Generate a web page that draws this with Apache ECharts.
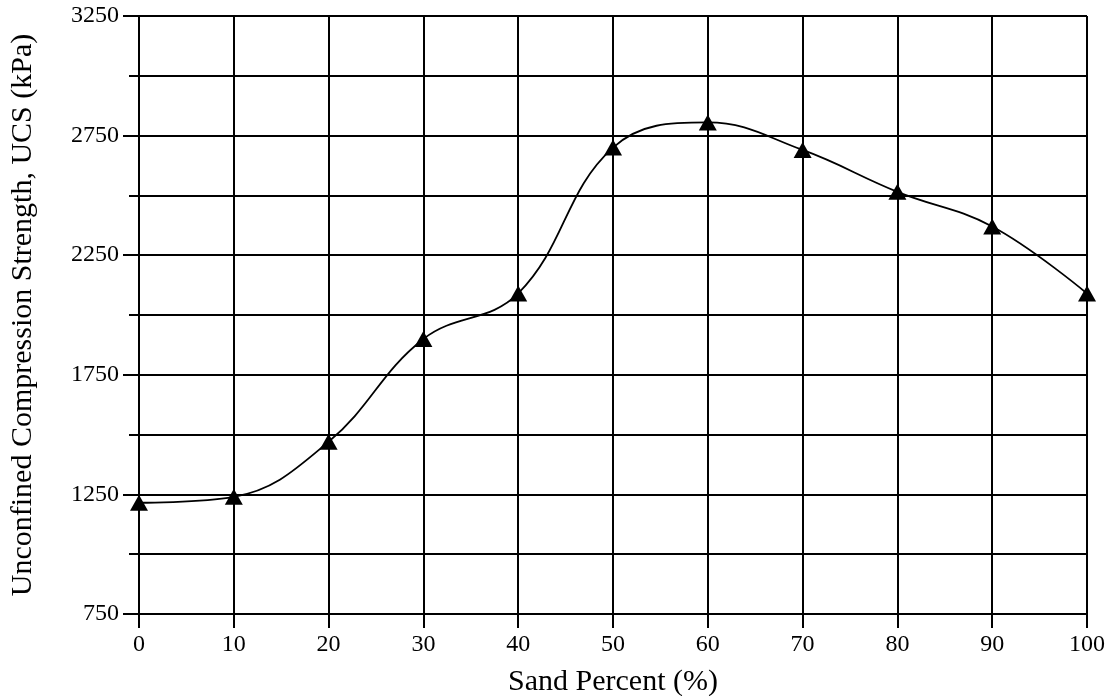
<!DOCTYPE html>
<html>
<head>
<meta charset="utf-8">
<title>UCS vs Sand Percent</title>
<script src="https://cdn.jsdelivr.net/npm/echarts@6/dist/echarts.min.js"></script>
<style>
  html, body { margin: 0; padding: 0; background: #fff; }
  #main { width: 1112px; height: 696px; }
</style>
</head>
<body>
<div id="main"></div>
<script>
// sand percent (%) and UCS (kPa)
const sandPercent = [0, 10, 20, 30, 40, 50, 60, 70, 80, 90, 100];
const ucsValues = [1215, 1240, 1470, 1900, 2090, 2700, 2805, 2690, 2515, 2370, 2090];

const font = "Liberation Serif";

const chart = echarts.init(document.getElementById("main"));

const option = {
  animation: false,
  backgroundColor: "#fff",
  grid: { left: 139, right: 25, top: 16, bottom: 82, outerBoundsMode: "none", containLabel: false },
  xAxis: {
    type: "value",
    min: 0,
    max: 100,
    interval: 10,
    name: "Sand Percent (%)",
    nameLocation: "middle",
    nameGap: 53,
    nameTextStyle: { fontFamily: font, fontSize: 30, color: "#000" },
    axisLine: { show: true, lineStyle: { color: "#000", width: 2 } },
    axisTick: { show: true, inside: false, length: 14, lineStyle: { color: "#000", width: 2 } },
    axisLabel: { fontFamily: font, fontSize: 24, color: "#000", margin: 19 },
    splitLine: { show: true, lineStyle: { color: "#000", width: 2 } }
  },
  yAxis: [
    {
      type: "value",
      min: 750,
      max: 3250,
      interval: 250,
      name: "Unconfined Compression Strength, UCS (kPa)",
      nameLocation: "middle",
      nameGap: 101,
      nameTextStyle: { fontFamily: font, fontSize: 30, color: "#000" },
      axisLine: { show: true, lineStyle: { color: "#000", width: 2 } },
      axisTick: { show: true, length: 10, lineStyle: { color: "#000", width: 2 } },
      axisLabel: {
        fontFamily: font,
        fontSize: 24,
        color: "#000",
        margin: 20,
        formatter: function (v) {
          return (v - 750) % 500 === 0 ? String(v) : "";
        }
      },
      splitLine: { show: true, lineStyle: { color: "#000", width: 2 } }
    },
    {
      // longer ticks at labelled values
      type: "value",
      position: "left",
      min: 750,
      max: 3250,
      interval: 500,
      axisLine: { show: false },
      axisTick: { show: true, length: 16, lineStyle: { color: "#000", width: 2 } },
      axisLabel: { show: false },
      splitLine: { show: false }
    }
  ],
  series: [
    {
      type: "line",
      data: sandPercent.map((x, i) => [x, ucsValues[i]]),
      smooth: 0.4,
      symbol: "triangle",
      symbolSize: [18, 16],
      itemStyle: { color: "#000" },
      lineStyle: { color: "#000", width: 1.8 }
    }
  ]
};

chart.setOption(option);
</script>
</body>
</html>
